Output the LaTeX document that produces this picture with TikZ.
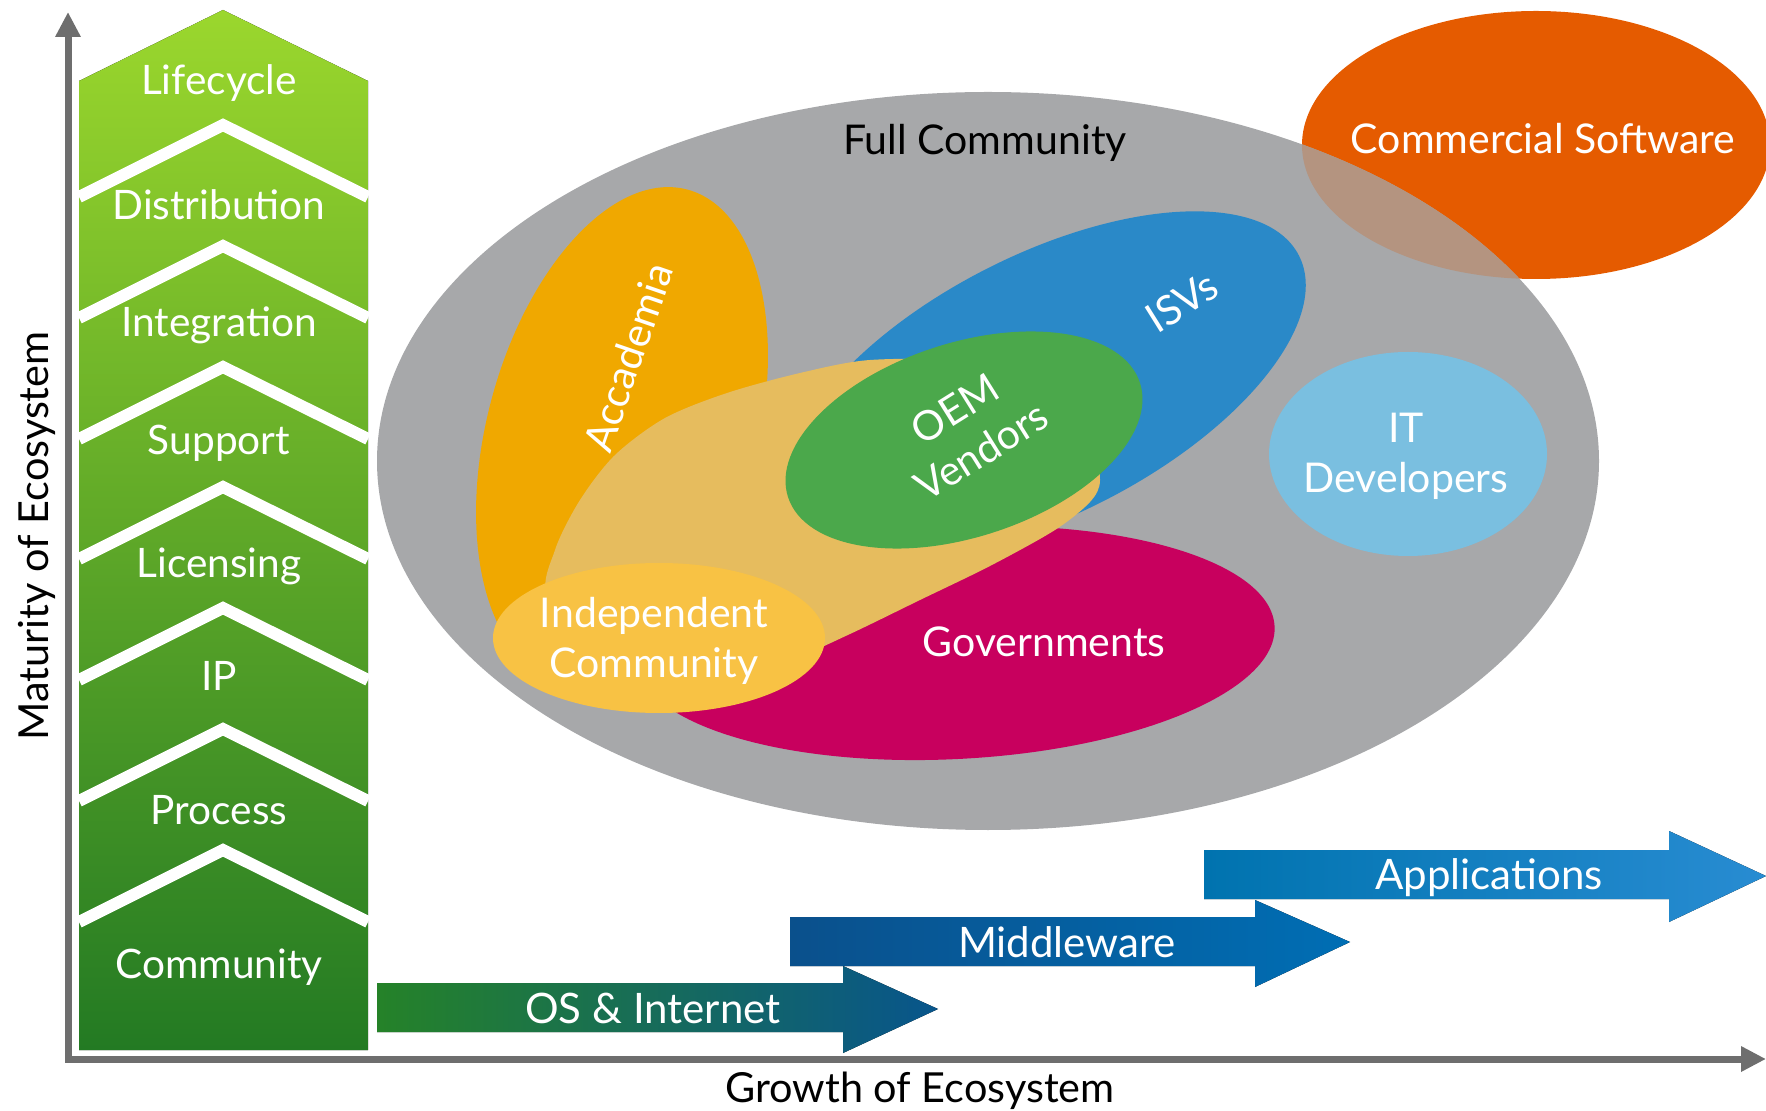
\documentclass[tikz,border=0pt]{standalone}
\usepackage{fontspec}
\setmainfont{Lato}
\usetikzlibrary{arrows.meta}
\definecolor{stacktop}{HTML}{9BD72D}
\definecolor{stackbot}{HTML}{237A23}
\definecolor{axisgray}{HTML}{6E6E6E}
\definecolor{fullgray}{HTML}{A7A8AA}
\definecolor{comorange}{HTML}{E55B00}
\definecolor{mixgray}{HTML}{B49480}
\definecolor{academia}{HTML}{F0A800}
\definecolor{indyellow}{HTML}{E6BC5E}
\definecolor{indsmall}{HTML}{F8C244}
\definecolor{isvblue}{HTML}{2A89C8}
\definecolor{oemgreen}{HTML}{4BA84B}
\definecolor{govmagenta}{HTML}{C8005E}
\definecolor{itblue}{HTML}{7ABFE0}
\definecolor{osleft}{HTML}{258228}
\definecolor{osright}{HTML}{08558C}
\definecolor{mwleft}{HTML}{0A508C}
\definecolor{mwright}{HTML}{006EB4}
\definecolor{apleft}{HTML}{0073AF}
\definecolor{apright}{HTML}{288CD2}
\begin{document}
\begin{tikzpicture}[x=0.5pt,y=-0.5pt,
    axis/.style={draw=axisgray,line width=3.5pt,line join=miter,
      {Triangle[width=12pt,length=12.5pt]}-{Triangle[width=12pt,length=12.5pt]}},
    gap/.style={draw=white,line width=6pt,line join=miter},
    stacklbl/.style={text=white,anchor=base,font=\fontsize{20.3}{24}\selectfont},
    lbl/.style={text=white,align=center,font=\fontsize{20.5}{25}\selectfont},
    barlbl/.style={text=white,anchor=base,font=\fontsize{21}{25}\selectfont},
    axlbl/.style={text=black,font=\fontsize{20.7}{25}\selectfont}]
  \useasboundingbox (0,0) rectangle (1766,1111);

  % maturity stack
  \fill[top color=stacktop,bottom color=stackbot]
    (79,81) -- (223,10) -- (368,81) -- (368,1050) -- (79,1050) -- cycle;
  \foreach \y in {125,246,367,487,608,729,850}
    \draw[gap] (79,{\y+72}) -- (223,\y) -- (368,{\y+72});
  \draw
    (219,95) node[stacklbl] (lifecycle){Lifecycle}
    (219,220) node[stacklbl] (distribution){Distribution}
    (219,337) node[stacklbl] (integration){Integration}
    (219,455) node[stacklbl] (support){Support}
    (219,578) node[stacklbl] (licensing){Licensing}
    (219,690) node[stacklbl] (ip){IP}
    (219,824) node[stacklbl] (process){Process}
    (219,978) node[stacklbl] (community){Community};

  % axes
  \coordinate (ytop) at (68,12);
  \coordinate (origin) at (68,1059);
  \coordinate (xend) at (1766,1059);
  \draw[axis] (ytop) -- (origin) -- (xend);
  \node[axlbl,rotate=90,anchor=base] (maturity) at (48,536) {Maturity of Ecosystem};
  \node[axlbl,anchor=base] (growth) at (920,1102) {Growth of Ecosystem};

  % growth arrows
  \fill[left color=osleft,right color=osright]
    (377,983) -- (843,983) -- (843,966) -- (938,1009) -- (843,1053) -- (843,1032) -- (377,1032) -- cycle;
  \fill[left color=mwleft,right color=mwright]
    (790,917) -- (1255,917) -- (1255,900) -- (1350,942) -- (1255,987) -- (1255,966) -- (790,966) -- cycle;
  \fill[left color=apleft,right color=apright]
    (1204,850) -- (1669,850) -- (1669,831) -- (1766,876) -- (1669,922) -- (1669,899) -- (1204,899) -- cycle;
  \node[barlbl] (os) at (653,1023) {OS \& Internet};
  \node[barlbl] (middleware) at (1067,957) {Middleware};
  \node[barlbl] (applications) at (1489,889) {Applications};

  % communities
  \fill[comorange] (1536,145) ellipse [x radius=234,y radius=134];
  \fill[fullgray] (988,461) ellipse [x radius=611,y radius=369];
  \begin{scope}
    \clip (988,461) ellipse [x radius=611,y radius=369];
    \fill[mixgray] (1536,145) ellipse [x radius=234,y radius=134];
  \end{scope}
  \fill[academia,rotate around={75:(622,434)}] (622,434) ellipse [x radius=253,y radius=135];
  \fill[isvblue,rotate around={27:(1045,385)}] (1045,385) ellipse [x radius=285,y radius=130];
  \fill[govmagenta,rotate around={3:(955,643)}] (955,643) ellipse [x radius=320,y radius=116];
  \fill[indyellow] plot[smooth cycle] coordinates {
    (548,600) (555,550) (580,500) (615,455) (665,418) (727,393) (800,373)
    (870,360) (960,362) (1040,390) (1090,440) (1100,480) (1090,502) (1055,530)
    (990,566) (920,600) (850,634) (780,665) (700,690) (610,680)};
  \fill[oemgreen,rotate around={18:(964,440)}] (964,440) ellipse [x radius=185,y radius=97];
  \fill[indsmall] (659,638) ellipse [x radius=166,y radius=75];
  \fill[itblue] (1408,454) ellipse [x radius=139,y radius=102];

  \node[lbl,anchor=base] (commercial) at (1543,154) {Commercial Software};
  \node[lbl,text=black,anchor=base] (full) at (985,155) {Full Community};
  \node[lbl,rotate=71] (accademia) at (628,357) {Accademia};
  \node[lbl,rotate=32] (isvs) at (1182,302) {ISVs};
  \node[lbl,rotate=32] (oem) at (968,430) {OEM\\Vendors};
  \node[lbl,anchor=base] (governments) at (1044,657) {Governments};
  \node[lbl] (independent) at (654,641) {Independent\\Community};
  \node[lbl] (itdev) at (1406,456) {IT\\Developers};
\end{tikzpicture}
\end{document}
